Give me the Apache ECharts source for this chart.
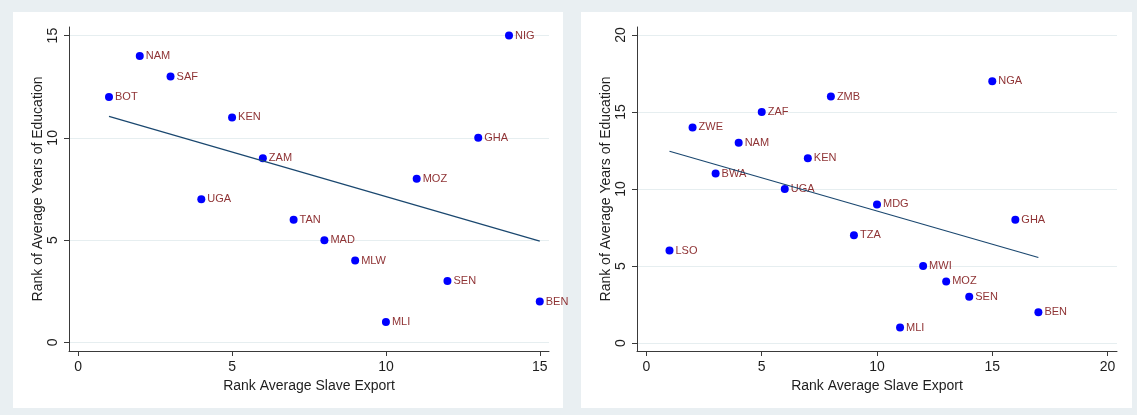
<!DOCTYPE html>
<html>
<head>
<meta charset="utf-8">
<script src="https://cdn.jsdelivr.net/npm/echarts@6/dist/echarts.min.js"></script>
<style>
  html, body { margin: 0; padding: 0; background: #e9eff2; }
  #chart { width: 1137px; height: 415px; }
</style>
</head>
<body>
<div id="chart"></div>
<script>
// Left panel: country codes, slave-export rank, education rank
const leftCodes = ['BOT', 'NAM', 'SAF', 'UGA', 'KEN', 'ZAM', 'TAN', 'MAD', 'MLW', 'MLI', 'MOZ', 'SEN', 'GHA', 'NIG', 'BEN'];
const leftSlaveRank = [1, 2, 3, 4, 5, 6, 7, 8, 9, 10, 11, 12, 13, 14, 15];
const leftEduRank = [12, 14, 13, 7, 11, 9, 6, 5, 4, 1, 8, 3, 10, 15, 2];

// Right panel
const rightCodes = ['LSO', 'ZWE', 'BWA', 'NAM', 'ZAF', 'UGA', 'KEN', 'ZMB', 'TZA', 'MDG', 'MLI', 'MWI', 'MOZ', 'SEN', 'NGA', 'GHA', 'BEN'];
const rightSlaveRank = [1, 2, 3, 4, 5, 6, 7, 8, 9, 10, 11, 12, 13, 14, 15, 16, 17];
const rightEduRank = [6, 14, 11, 13, 15, 10, 12, 16, 7, 9, 1, 5, 4, 3, 17, 8, 2];

// Tick labels
const leftXTicks = [0, 5, 10, 15];
const leftYTicks = [0, 5, 10, 15];
const rightXTicks = [0, 5, 10, 15, 20];
const rightYTicks = [0, 5, 10, 15, 20];

const X_TITLE = 'Rank Average Slave Export';
const Y_TITLE = 'Rank of Average Years of Education';

const FONT = "'Liberation Sans', Arial, Helvetica, sans-serif";
const MARKER = '#0000ff';
const LABEL = '#8f3335';
const FIT = '#1a476f';
const GRID = '#e6eef0';
const AXIS = '#3a3a3a';

// Ordinary least squares fit, evaluated at the ends of the x range
function linearFit(xs, ys) {
  const n = xs.length;
  const mx = xs.reduce((a, b) => a + b, 0) / n;
  const my = ys.reduce((a, b) => a + b, 0) / n;
  let sxy = 0, sxx = 0;
  for (let i = 0; i < n; i++) {
    sxy += (xs[i] - mx) * (ys[i] - my);
    sxx += (xs[i] - mx) * (xs[i] - mx);
  }
  const b = sxy / sxx;
  const a = my - b * mx;
  const x0 = Math.min(...xs), x1 = Math.max(...xs);
  return [[x0, a + b * x0], [x1, a + b * x1]];
}

function xAxisFor(gridIndex, min, max, ticks) {
  return {
    type: 'value', gridIndex, min, max,
    name: X_TITLE, nameLocation: 'middle', nameGap: 25,
    nameTextStyle: { fontFamily: FONT, fontSize: 14, color: '#1e1e1e' },
    axisLine: { show: true, onZero: false, lineStyle: { color: AXIS, width: 1 } },
    axisTick: { show: true, customValues: ticks, length: 5, lineStyle: { color: AXIS } },
    axisLabel: { customValues: ticks, margin: 9, fontFamily: FONT, fontSize: 14, color: '#1e1e1e' },
    splitLine: { show: false }
  };
}

function yAxisFor(gridIndex, min, max, ticks) {
  return {
    type: 'value', gridIndex, min, max,
    name: Y_TITLE, nameLocation: 'middle', nameGap: 24, nameRotate: 90,
    nameTextStyle: { fontFamily: FONT, fontSize: 14, color: '#1e1e1e' },
    axisLine: { show: true, onZero: false, lineStyle: { color: AXIS, width: 1 } },
    axisTick: { show: true, customValues: ticks, length: 5, lineStyle: { color: AXIS } },
    axisLabel: { customValues: ticks, rotate: 90, margin: 9, fontFamily: FONT, fontSize: 14, color: '#1e1e1e' },
    splitLine: { show: false }
  };
}

function panelSeries(idx, codes, xs, ys, yTicks) {
  return [
    {
      // horizontal grid lines at the y ticks, kept beneath the markers
      type: 'line', xAxisIndex: idx, yAxisIndex: idx, data: [], z: 1, silent: true,
      markLine: {
        z: 0, silent: true, symbol: 'none', animation: false,
        label: { show: false },
        emphasis: { disabled: true },
        lineStyle: { color: GRID, width: 1, type: 'solid' },
        data: yTicks.map(v => ({ yAxis: v }))
      }
    },
    {
      type: 'scatter', xAxisIndex: idx, yAxisIndex: idx, z: 3,
      symbol: 'circle', symbolSize: 8,
      itemStyle: { color: MARKER, opacity: 1 },
      label: {
        show: true, position: 'right', distance: 2,
        formatter: p => codes[p.dataIndex],
        fontFamily: FONT, fontSize: 11, color: LABEL
      },
      data: xs.map((x, i) => [x, ys[i]])
    },
    {
      type: 'line', xAxisIndex: idx, yAxisIndex: idx, z: 4,
      showSymbol: false, symbol: 'none',
      lineStyle: { color: FIT, width: 1.2 },
      data: linearFit(xs, ys)
    }
  ];
}

const chart = echarts.init(document.getElementById('chart'), null, { renderer: 'canvas' });
chart.setOption({
  animation: false,
  backgroundColor: '#e9eff2',
  graphic: [
    { type: 'rect', z: -10, shape: { x: 13, y: 12, width: 550, height: 396 }, style: { fill: '#ffffff' } },
    { type: 'rect', z: -10, shape: { x: 581, y: 12, width: 551, height: 396 }, style: { fill: '#ffffff' } }
  ],
  grid: [
    { left: 69, top: 27, width: 480, height: 324 },
    { left: 637, top: 27, width: 480, height: 324 }
  ],
  xAxis: [
    xAxisFor(0, -0.3, 15.3, leftXTicks),
    xAxisFor(1, -0.41, 20.41, rightXTicks)
  ],
  yAxis: [
    yAxisFor(0, -0.42, 15.42, leftYTicks),
    yAxisFor(1, -0.52, 20.52, rightYTicks)
  ],
  series: [
    ...panelSeries(0, leftCodes, leftSlaveRank, leftEduRank, leftYTicks),
    ...panelSeries(1, rightCodes, rightSlaveRank, rightEduRank, rightYTicks)
  ]
});
</script>
</body>
</html>
